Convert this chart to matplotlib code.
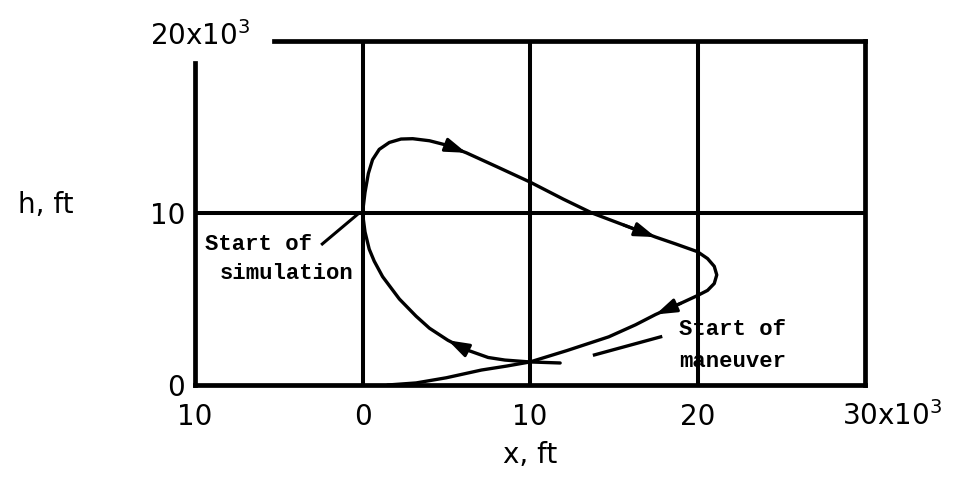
import matplotlib
matplotlib.use("Agg")
import matplotlib.pyplot as plt
import numpy as np

plt.rcParams["mathtext.default"] = "regular"

# trajectory, x and h in thousands of feet
# loop: from start of simulation over the top, round the right end and down to the ground
loop_x = [0.0, 0.15, 0.35, 0.6, 1.0, 1.6, 2.3, 3.0, 4.0, 5.0, 6.2, 8.0, 10.0, 12.0,
          13.7, 15.6, 17.5, 18.7, 20.0, 20.6, 21.0, 21.15, 21.0, 20.6, 20.0, 19.0,
          17.5, 16.3, 14.7, 12.2, 10.0, 8.6, 7.1, 5.0, 3.2, 1.5]
loop_h = [10.0, 11.2, 12.3, 13.1, 13.7, 14.1, 14.3, 14.32, 14.2, 13.95, 13.5, 12.7,
          11.8, 10.8, 10.0, 9.3, 8.6, 8.2, 7.75, 7.35, 6.9, 6.4, 5.9, 5.5, 5.2, 4.75,
          4.1, 3.5, 2.8, 2.0, 1.34, 1.1, 0.87, 0.42, 0.12, 0.0]

# return branch from the maneuver point back up to the start
ret_x = [11.8, 10.0, 8.5, 7.5, 6.2, 5.1, 4.0, 3.2, 2.2, 1.2, 0.7, 0.4, 0.15, 0.0]
ret_h = [1.28, 1.34, 1.45, 1.6, 2.05, 2.6, 3.3, 4.0, 5.0, 6.3, 7.2, 7.9, 8.9, 10.0]

# arrowhead positions (index of tip point in each branch)
loop_arrows = [10, 16, 26]
ret_arrows = [5]

grid_x = [0, 10, 20]
grid_h = [10]
xticks = [-10, 0, 10, 20]
xtick_labels = ["10", "0", "10", "20"]
hticks = [0, 10]
htick_labels = ["0", "10"]

fig = plt.figure(figsize=(9.61, 5.0), dpi=100)
ax = fig.add_axes([195 / 961, 115 / 500, 670 / 961, 344 / 500])
ax.set_xlim(-10, 30)
ax.set_ylim(0, 20)

for side in ["left", "right", "top", "bottom"]:
    ax.spines[side].set_linewidth(3.4)
ax.spines["top"].set_bounds(-5.3, 30)
ax.spines["left"].set_bounds(0, 18.7)

ax.vlines(grid_x, 0, 20, colors="black", linewidth=2.9)
ax.hlines(grid_h, -10, 30, colors="black", linewidth=2.9)

ax.plot(loop_x, loop_h, color="black", linewidth=2.4, solid_capstyle="round",
        solid_joinstyle="round")
ax.plot(ret_x, ret_h, color="black", linewidth=2.4, solid_capstyle="round",
        solid_joinstyle="round")

def add_arrows(xs, hs, idx):
    for i in idx:
        ax.annotate("", xy=(xs[i], hs[i]), xytext=(xs[i - 1], hs[i - 1]),
                    arrowprops=dict(arrowstyle="-|>,head_length=0.9,head_width=0.3",
                                    color="black", lw=2.2, mutation_scale=14,
                                    shrinkA=0, shrinkB=0))

add_arrows(loop_x, loop_h, loop_arrows)
add_arrows(ret_x, ret_h, ret_arrows)

# callout lines
ax.plot([-2.4, -0.2], [8.2, 10.0], color="black", linewidth=2.2)
ax.plot([13.85, 17.8], [1.75, 2.8], color="black", linewidth=2.4)

mono = dict(family="Liberation Mono", fontsize=16, fontweight="bold",
            color="black", va="center")
ax.text(-9.4, 8.16, "Start of", ha="left", **mono)
ax.text(-8.5, 6.5, "simulation", ha="left", **mono)
ax.text(18.9, 3.2, "Start of", ha="left", **mono)
ax.text(18.9, 1.34, "maneuver", ha="left", **mono)

lab = dict(family="DejaVu Sans", fontsize=20, color="black")
ax.set_xticks(xticks, xtick_labels, **lab)
ax.set_yticks(hticks, htick_labels, **lab)
ax.tick_params(length=0)
ax.tick_params(axis="x", pad=13)
ax.tick_params(axis="y", pad=7)
ax.text(28.6, -0.95, "30x10$^3$", ha="left", va="top", **lab)
ax.text(-9.7, 20.3, "20x10$^3$", ha="center", va="center", **lab)

fig.text(530 / 961, 1 - 455 / 500, "x, ft", ha="center", va="center", **lab)
fig.text(46 / 961, 1 - 205 / 500, "h, ft", ha="center", va="center", **lab)

fig.savefig("out.png", dpi=100, facecolor="white")
